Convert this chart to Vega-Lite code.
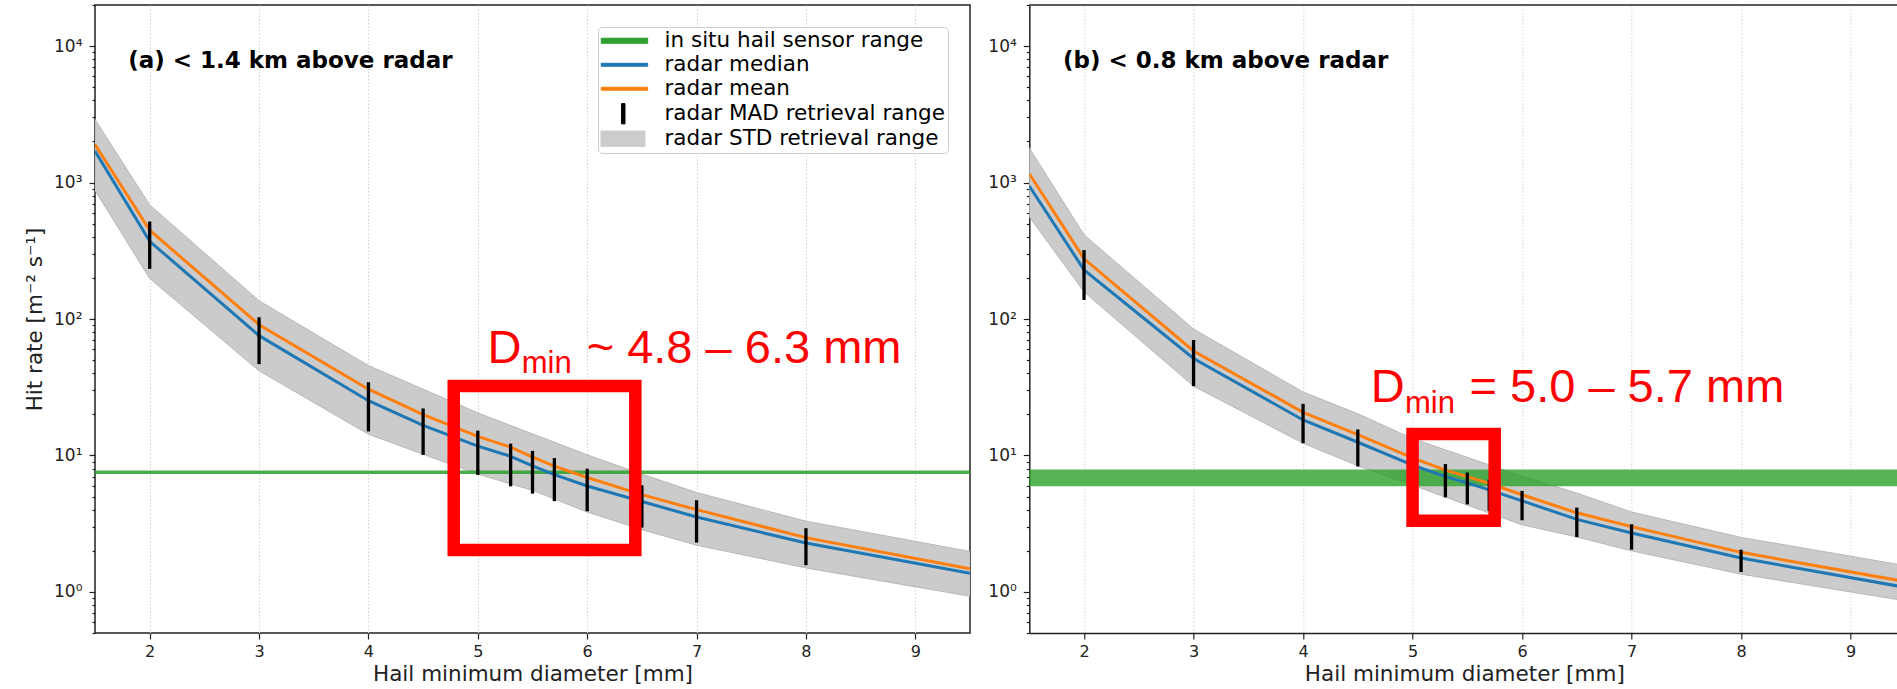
{
  "$schema": "https://vega.github.io/schema/vega-lite/v6.json",
  "padding": {"left": 23, "top": -5, "right": 0, "bottom": 0},
  "spacing": 59.3,
  "bounds": "flush",
  "datasets": {
    "a_lines": [
      {"series": "radar median", "x": 1.5, "v": 1700}, {"series": "radar median", "x": 2, "v": 371}, {"series": "radar median", "x": 3, "v": 75.5}, {"series": "radar median", "x": 4, "v": 25.2}, {"series": "radar median", "x": 4.5, "v": 16.6}, {"series": "radar median", "x": 5, "v": 11.7}, {"series": "radar median", "x": 5.3, "v": 9.85}, {"series": "radar median", "x": 5.5, "v": 8.4}, {"series": "radar median", "x": 5.7, "v": 7.23}, {"series": "radar median", "x": 6, "v": 5.97}, {"series": "radar median", "x": 6.5, "v": 4.6}, {"series": "radar median", "x": 7, "v": 3.54}, {"series": "radar median", "x": 8, "v": 2.28}, {"series": "radar median", "x": 9.5, "v": 1.37},
      {"series": "radar mean", "x": 1.5, "v": 1900}, {"series": "radar mean", "x": 2, "v": 447}, {"series": "radar mean", "x": 3, "v": 90.8}, {"series": "radar mean", "x": 4, "v": 30.6}, {"series": "radar mean", "x": 4.5, "v": 19.9}, {"series": "radar mean", "x": 5, "v": 13.8}, {"series": "radar mean", "x": 5.3, "v": 11.5}, {"series": "radar mean", "x": 5.5, "v": 9.73}, {"series": "radar mean", "x": 5.7, "v": 8.36}, {"series": "radar mean", "x": 6, "v": 6.9}, {"series": "radar mean", "x": 6.5, "v": 5.16}, {"series": "radar mean", "x": 7, "v": 4.01}, {"series": "radar mean", "x": 8, "v": 2.5}, {"series": "radar mean", "x": 9.5, "v": 1.48}
    ],
    "a_std": [
      {"x": 1.5, "lo": 875, "hi": 2900}, {"x": 2, "lo": 198, "hi": 686}, {"x": 3, "lo": 41.7, "hi": 136}, {"x": 4, "lo": 14.3, "hi": 45.6}, {"x": 4.5, "lo": 10.2, "hi": 30.6}, {"x": 5, "lo": 7.3, "hi": 20.5}, {"x": 5.5, "lo": 5.55, "hi": 14.4}, {"x": 6, "lo": 3.85, "hi": 10.1}, {"x": 6.5, "lo": 2.86, "hi": 7.3}, {"x": 7, "lo": 2.2, "hi": 5.35}, {"x": 8, "lo": 1.5, "hi": 3.3}, {"x": 9.5, "lo": 0.93, "hi": 1.98}
    ],
    "a_mad": [
      {"x": 2, "lo": 233, "hi": 518}, {"x": 3, "lo": 46.7, "hi": 103}, {"x": 4, "lo": 15.0, "hi": 34.4}, {"x": 4.5, "lo": 10.1, "hi": 22.1}, {"x": 5, "lo": 7.2, "hi": 15.2}, {"x": 5.3, "lo": 5.94, "hi": 12.2}, {"x": 5.5, "lo": 5.25, "hi": 10.8}, {"x": 5.7, "lo": 4.63, "hi": 9.57}, {"x": 6, "lo": 3.9, "hi": 8.0}, {"x": 6.5, "lo": 2.96, "hi": 6.04}, {"x": 7, "lo": 2.3, "hi": 4.7}, {"x": 8, "lo": 1.57, "hi": 2.93}
    ],
    "a_sensor": [{"lo": 7.3, "hi": 7.75}],
    "a_box": [{"x1": 4.78, "x2": 6.44, "y1": 2.03, "y2": 32.3}],
    "a_big": [{"x": 5.088, "y": 47.5, "t": "D"}, {"x": 5.995, "y": 47.5, "t": "~ 4.8 – 6.3 mm"}],
    "a_sub": [{"x": 5.401, "y": 39.96, "t": "min"}],
    "a_title": [{"x": 1.803, "y": 6887, "t": "(a) < 1.4 km above radar"}],
    "b_lines": [
      {"series": "radar median", "x": 1.5, "v": 943}, {"series": "radar median", "x": 2, "v": 229}, {"series": "radar median", "x": 3, "v": 51.4}, {"series": "radar median", "x": 4, "v": 18.2}, {"series": "radar median", "x": 4.5, "v": 12.5}, {"series": "radar median", "x": 5, "v": 8.5}, {"series": "radar median", "x": 5.3, "v": 7.0}, {"series": "radar median", "x": 5.5, "v": 6.3}, {"series": "radar median", "x": 5.7, "v": 5.6}, {"series": "radar median", "x": 6, "v": 4.65}, {"series": "radar median", "x": 6.5, "v": 3.4}, {"series": "radar median", "x": 7, "v": 2.7}, {"series": "radar median", "x": 8, "v": 1.77}, {"series": "radar median", "x": 9.5, "v": 1.08},
      {"series": "radar mean", "x": 1.5, "v": 1160}, {"series": "radar mean", "x": 2, "v": 276}, {"series": "radar mean", "x": 3, "v": 58.3}, {"series": "radar mean", "x": 4, "v": 20.7}, {"series": "radar mean", "x": 4.5, "v": 14.2}, {"series": "radar mean", "x": 5, "v": 9.6}, {"series": "radar mean", "x": 5.3, "v": 7.8}, {"series": "radar mean", "x": 5.5, "v": 7.0}, {"series": "radar mean", "x": 5.7, "v": 6.25}, {"series": "radar mean", "x": 6, "v": 5.15}, {"series": "radar mean", "x": 6.5, "v": 3.8}, {"series": "radar mean", "x": 7, "v": 3.01}, {"series": "radar mean", "x": 8, "v": 1.95}, {"series": "radar mean", "x": 9.5, "v": 1.19}
    ],
    "b_std": [
      {"x": 1.5, "lo": 561, "hi": 1795}, {"x": 2, "lo": 158, "hi": 414}, {"x": 3, "lo": 32.2, "hi": 84.4}, {"x": 4, "lo": 12.3, "hi": 29.2}, {"x": 4.5, "lo": 8.4, "hi": 20.2}, {"x": 5, "lo": 6.05, "hi": 13.3}, {"x": 6, "lo": 3.1, "hi": 7.05}, {"x": 6.5, "lo": 2.53, "hi": 5.3}, {"x": 7, "lo": 2.0, "hi": 3.85}, {"x": 8, "lo": 1.35, "hi": 2.51}, {"x": 9.5, "lo": 0.86, "hi": 1.56}
    ],
    "b_mad": [
      {"x": 2, "lo": 138, "hi": 320}, {"x": 3, "lo": 32.2, "hi": 70.1}, {"x": 4, "lo": 12.3, "hi": 23.9}, {"x": 4.5, "lo": 8.3, "hi": 15.5}, {"x": 5.3, "lo": 4.93, "hi": 8.65}, {"x": 5.5, "lo": 4.38, "hi": 7.5}, {"x": 5.7, "lo": 3.92, "hi": 6.65}, {"x": 6, "lo": 3.35, "hi": 5.5}, {"x": 6.5, "lo": 2.52, "hi": 4.15}, {"x": 7, "lo": 2.04, "hi": 3.13}, {"x": 8, "lo": 1.4, "hi": 2.04}
    ],
    "b_sensor": [{"lo": 5.95, "hi": 7.9}],
    "b_box": [{"x1": 5.0, "x2": 5.75, "y1": 3.33, "y2": 14.35}],
    "b_big": [{"x": 4.618, "y": 24.6, "t": "D"}, {"x": 5.52, "y": 24.6, "t": "= 5.0 – 5.7 mm"}],
    "b_sub": [{"x": 4.931, "y": 20.44, "t": "min"}],
    "b_title": [{"x": 1.808, "y": 6887, "t": "(b) < 0.8 km above radar"}]
  },
  "hconcat": [
    {
      "width": 875,
      "height": 628,
      "layer": [
        {
          "data": {"name": "a_std"},
          "mark": {"type": "area", "fill": "#cbcbcb", "stroke": "#b8b8b8", "strokeWidth": 1, "clip": true},
          "encoding": {
            "x": {"field": "x", "type": "quantitative", "scale": {"domain": [1.5, 9.5], "nice": false, "zero": false},
              "axis": {"values": [2, 3, 4, 5, 6, 7, 8, 9], "format": "d", "title": "Hail minimum diameter [mm]"}},
            "y": {"field": "lo", "type": "quantitative", "scale": {"type": "log", "domain": [0.5, 20000], "nice": false},
              "axis": {"title": "Hit rate [m⁻² s⁻¹]"}},
            "y2": {"field": "hi"}
          }
        },
        {
          "data": {"name": "a_sensor"},
          "mark": {"type": "rect", "color": "#2ca02c", "opacity": 0.85},
          "encoding": {"y": {"field": "lo", "type": "quantitative"}, "y2": {"field": "hi"}}
        },
        {
          "data": {"name": "a_lines"},
          "mark": {"type": "line", "strokeWidth": 3, "clip": true},
          "encoding": {
            "x": {"field": "x", "type": "quantitative"},
            "y": {"field": "v", "type": "quantitative"},
            "color": {"field": "series", "type": "nominal",
              "scale": {"domain": ["in situ hail sensor range", "radar median", "radar mean", "radar MAD retrieval range", "radar STD retrieval range"],
                        "range": ["#2ca02c", "#1f77b4", "#ff7f0e", "#000000", "#cccccc"]},
              "legend": {
                "title": null, "orient": "top-right", "offset": 22, "padding": 3, "rowPadding": 1,
                "labelFont": "DejaVu Sans", "labelFontSize": 21.5, "labelColor": "#000000", "labelLimit": 500,
                "symbolSize": 196, "labelOffset": 42,
                "strokeColor": "#cccccc", "fillColor": "rgba(255,255,255,0.85)", "cornerRadius": 4,
                "encode": {"symbols": {"update": {
                  "shape": {"signal": "datum.value === 'radar STD retrieval range' ? 'M-1.54,-1.1H4.74V1.1H-1.54Z' : datum.value === 'radar MAD retrieval range' ? 'M1.39,-1.45H1.89V1.45H1.39Z' : datum.value === 'in situ hail sensor range' ? 'M-1.5,-0.36H5.13V0.36H-1.5Z' : 'M-1.5,-0.21H5.13V0.21H-1.5Z'"},
                  "fill": {"signal": "datum.value === 'in situ hail sensor range' ? '#2ca02c' : datum.value === 'radar median' ? '#1f77b4' : datum.value === 'radar mean' ? '#ff7f0e' : datum.value === 'radar MAD retrieval range' ? '#000000' : '#cccccc'"},
                  "stroke": {"signal": "datum.value === 'radar STD retrieval range' ? '#b0b0b0' : 'transparent'"},
                  "strokeWidth": {"value": 1},
                  "opacity": {"value": 1},
                  "fillOpacity": {"value": 1}
                }}}
              }
            }
          }
        },
        {
          "data": {"name": "a_mad"},
          "mark": {"type": "rule", "color": "#000000", "strokeWidth": 3.3},
          "encoding": {"x": {"field": "x", "type": "quantitative"}, "y": {"field": "lo", "type": "quantitative"}, "y2": {"field": "hi"}}
        },
        {
          "data": {"name": "a_box"},
          "mark": {"type": "rect", "filled": false, "stroke": "#ff0000", "strokeWidth": 12.5, "strokeOpacity": 1},
          "encoding": {"x": {"field": "x1", "type": "quantitative"}, "x2": {"field": "x2"}, "y": {"field": "y1", "type": "quantitative"}, "y2": {"field": "y2"}}
        },
        {
          "data": {"name": "a_big"},
          "mark": {"type": "text", "font": "Liberation Sans", "fontSize": 47, "color": "#ff0000", "align": "left", "baseline": "alphabetic"},
          "encoding": {"x": {"field": "x", "type": "quantitative"}, "y": {"field": "y", "type": "quantitative"}, "text": {"field": "t"}}
        },
        {
          "data": {"name": "a_sub"},
          "mark": {"type": "text", "font": "Liberation Sans", "fontSize": 31, "color": "#ff0000", "align": "left", "baseline": "alphabetic"},
          "encoding": {"x": {"field": "x", "type": "quantitative"}, "y": {"field": "y", "type": "quantitative"}, "text": {"field": "t"}}
        },
        {
          "data": {"name": "a_title"},
          "mark": {"type": "text", "font": "DejaVu Sans", "fontWeight": "bold", "fontSize": 23, "color": "#000000", "align": "left", "baseline": "alphabetic"},
          "encoding": {"x": {"field": "x", "type": "quantitative"}, "y": {"field": "y", "type": "quantitative"}, "text": {"field": "t"}}
        }
      ]
    },
    {
      "width": 870,
      "height": 628,
      "view": {"stroke": null},
      "layer": [
        {
          "data": {"name": "b_std"},
          "mark": {"type": "area", "fill": "#cbcbcb", "stroke": "#b8b8b8", "strokeWidth": 1, "clip": true},
          "encoding": {
            "x": {"field": "x", "type": "quantitative", "scale": {"domain": [1.5, 9.445], "nice": false, "zero": false},
              "axis": {"values": [2, 3, 4, 5, 6, 7, 8, 9], "format": "d", "title": "Hail minimum diameter [mm]", "domain": true}},
            "y": {"field": "lo", "type": "quantitative", "scale": {"type": "log", "domain": [0.5, 20000], "nice": false},
              "axis": {"title": null, "domain": true}},
            "y2": {"field": "hi"}
          }
        },
        {
          "data": {"name": "b_sensor"},
          "mark": {"type": "rect", "color": "#2ca02c", "opacity": 0.8},
          "encoding": {"y": {"field": "lo", "type": "quantitative"}, "y2": {"field": "hi"}}
        },
        {
          "data": {"name": "b_lines"},
          "mark": {"type": "line", "strokeWidth": 3, "clip": true},
          "encoding": {
            "x": {"field": "x", "type": "quantitative"},
            "y": {"field": "v", "type": "quantitative"},
            "color": {"field": "series", "type": "nominal", "scale": {"domain": ["radar median", "radar mean"], "range": ["#1f77b4", "#ff7f0e"]}, "legend": null}
          }
        },
        {
          "data": {"name": "b_mad"},
          "mark": {"type": "rule", "color": "#000000", "strokeWidth": 3.3},
          "encoding": {"x": {"field": "x", "type": "quantitative"}, "y": {"field": "lo", "type": "quantitative"}, "y2": {"field": "hi"}}
        },
        {
          "data": {"name": "b_box"},
          "mark": {"type": "rect", "filled": false, "stroke": "#ff0000", "strokeWidth": 12.5, "strokeOpacity": 1},
          "encoding": {"x": {"field": "x1", "type": "quantitative"}, "x2": {"field": "x2"}, "y": {"field": "y1", "type": "quantitative"}, "y2": {"field": "y2"}}
        },
        {
          "data": {"name": "b_big"},
          "mark": {"type": "text", "font": "Liberation Sans", "fontSize": 47, "color": "#ff0000", "align": "left", "baseline": "alphabetic"},
          "encoding": {"x": {"field": "x", "type": "quantitative"}, "y": {"field": "y", "type": "quantitative"}, "text": {"field": "t"}}
        },
        {
          "data": {"name": "b_sub"},
          "mark": {"type": "text", "font": "Liberation Sans", "fontSize": 31, "color": "#ff0000", "align": "left", "baseline": "alphabetic"},
          "encoding": {"x": {"field": "x", "type": "quantitative"}, "y": {"field": "y", "type": "quantitative"}, "text": {"field": "t"}}
        },
        {
          "data": {"name": "b_title"},
          "mark": {"type": "text", "font": "DejaVu Sans", "fontWeight": "bold", "fontSize": 23, "color": "#000000", "align": "left", "baseline": "alphabetic"},
          "encoding": {"x": {"field": "x", "type": "quantitative"}, "y": {"field": "y", "type": "quantitative"}, "text": {"field": "t"}}
        },
        {
          "data": {"name": "b_title"},
          "mark": {"type": "rule", "color": "#222222", "strokeWidth": 1.5},
          "encoding": {"y": {"datum": 20000, "type": "quantitative"}}
        }
      ]
    }
  ],
  "resolve": {"scale": {"color": "independent", "x": "independent", "y": "independent"}, "legend": {"color": "independent"}},
  "config": {
    "font": "DejaVu Sans",
    "view": {"stroke": "#222222", "strokeWidth": 1.5},
    "axis": {
      "labelFont": "DejaVu Sans", "labelFontSize": 16, "labelColor": "#222222", "labelPadding": 4,
      "titleFont": "DejaVu Sans", "titleFontSize": 21.5, "titleFontWeight": "normal", "titleColor": "#222222",
      "tickColor": "#222222", "tickWidth": 1.2, "tickSize": 6,
      "domain": false, "domainColor": "#222222", "domainWidth": 1.5,
      "grid": true, "gridColor": "#d2d2d2", "gridDash": [1.5, 2], "gridWidth": 1,
      "labelFlush": false, "labelOverlap": false, "labelBound": false
    },
    "axisX": {"titlePadding": 4},
    "axisY": {
      "titlePadding": 7,
      "labelFontSize": 17,
      "labelPadding": 7,
      "values": [0.5, 0.6, 0.7, 0.8, 0.9, 1, 2, 3, 4, 5, 6, 7, 8, 9, 10, 20, 30, 40, 50, 60, 70, 80, 90, 100, 200, 300, 400, 500, 600, 700, 800, 900, 1000, 2000, 3000, 4000, 5000, 6000, 7000, 8000, 9000, 10000],
      "labelExpr": "datum.value == 1 ? '10⁰' : datum.value == 10 ? '10¹' : datum.value == 100 ? '10²' : datum.value == 1000 ? '10³' : datum.value == 10000 ? '10⁴' : ''",
      "tickSize": {"condition": {"test": "datum.value == 1 || datum.value == 10 || datum.value == 100 || datum.value == 1000 || datum.value == 10000", "value": 6}, "value": 3},
      "gridOpacity": {"condition": {"test": "datum.value == 1 || datum.value == 10 || datum.value == 100 || datum.value == 1000 || datum.value == 10000", "value": 1}, "value": 0}
    }
  }
}
